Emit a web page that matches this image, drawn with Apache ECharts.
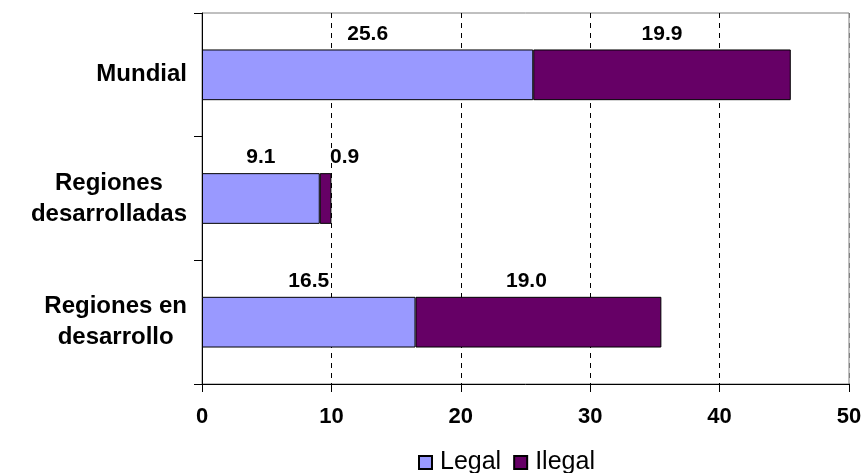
<!DOCTYPE html>
<html>
<head>
<meta charset="utf-8">
<script src="https://cdn.jsdelivr.net/npm/echarts@6/dist/echarts.min.js"></script>
<style>
  html, body { margin: 0; padding: 0; background: #fff; }
  #chart { width: 865px; height: 473px; }
</style>
</head>
<body>
<div id="chart"></div>
<script>
// Abortos inducidos (millones), por región y condición legal
const regions = ['Mundial', 'Regiones\ndesarrolladas', 'Regiones en\ndesarrollo'];
const legalValues = [25.6, 9.1, 16.5];
const illegalValues = [19.9, 0.9, 19.0];
const xTicks = [0, 10, 20, 30, 40, 50];
const seriesNames = ['Legal', 'Ilegal'];

const FONT = '"Liberation Sans", Arial, sans-serif';

const chart = echarts.init(document.getElementById('chart'), null, { renderer: 'canvas' });

const valueLabel = {
  show: true,
  position: 'top',
  distance: 5,
  color: '#000',
  fontFamily: FONT,
  fontWeight: 'bold',
  fontSize: 21,
  formatter: p => p.value.toFixed(1)
};

function buildData(values, shifts) {
  return values.map((v, i) => {
    const item = { value: v };
    if (shifts && shifts[i]) item.label = { offset: [shifts[i], 0] };
    return item;
  });
}

chart.setOption({
  animation: false,
  backgroundColor: '#fff',
  grid: {
    left: 202, right: 16, top: 13, bottom: 89,
    show: true, borderColor: '#808080', borderWidth: 1
  },
  legend: {
    data: seriesNames,
    left: 413, top: 445,
    itemWidth: 13, itemHeight: 13, itemGap: 12,
    icon: 'rect',
    textStyle: { fontFamily: FONT, fontSize: 25, lineHeight: 25, color: '#000', padding: [0, 0, 0, 3] }
  },
  xAxis: {
    type: 'value',
    min: 0, max: 50, interval: 10,
    axisLine: { show: true, lineStyle: { color: '#000', width: 1 } },
    axisTick: { show: true, length: 8, lineStyle: { color: '#000' } },
    axisLabel: {
      margin: 22, color: '#000', fontFamily: FONT, fontWeight: 'bold', fontSize: 22,
      formatter: v => xTicks.includes(v) ? String(v) : ''
    },
    splitLine: {
      show: true,
      lineStyle: {
        type: [5, 5],
        color: ['rgba(0,0,0,0)', '#000', '#000', '#000', '#000', '#808080'],
        width: 1
      }
    }
  },
  yAxis: {
    type: 'category',
    data: regions,
    inverse: true,
    axisLine: { show: true, lineStyle: { color: '#000', width: 1 } },
    axisTick: { show: true, length: 8, lineStyle: { color: '#000' } },
    axisLabel: {
      margin: 15,
      color: '#000',
      formatter: v => v.split('\n').map(s => '{c|' + s + '}').join('\n'),
      rich: {
        c: {
          align: 'center', fontFamily: FONT, fontWeight: 'bold', fontSize: 24,
          lineHeight: 31, color: '#000'
        }
      }
    },
    splitLine: { show: false }
  },
  series: [
    {
      name: seriesNames[0],
      type: 'bar',
      stack: 'total',
      barCategoryGap: '59%',
      itemStyle: { color: '#9999FF', borderColor: '#000', borderWidth: 1 },
      label: valueLabel,
      data: buildData(legalValues)
    },
    {
      name: seriesNames[1],
      type: 'bar',
      stack: 'total',
      barCategoryGap: '59%',
      itemStyle: { color: '#660066', borderColor: '#000', borderWidth: 1 },
      label: valueLabel,
      data: buildData(illegalValues, [0, 19, -12])
    }
  ]
});
</script>
</body>
</html>
